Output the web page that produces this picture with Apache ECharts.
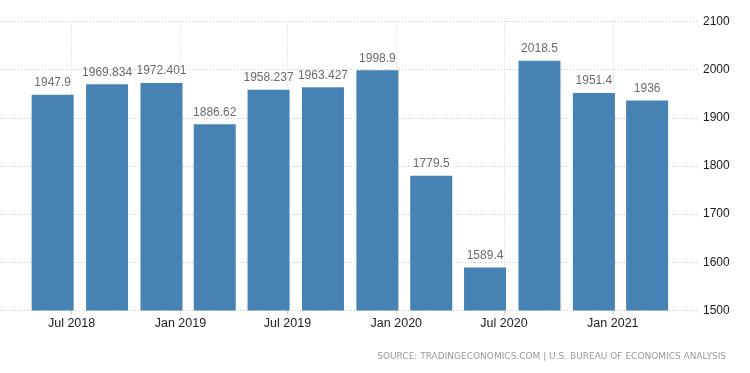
<!DOCTYPE html>
<html>
<head>
<meta charset="utf-8">
<script src="https://cdn.jsdelivr.net/npm/echarts@6/dist/echarts.min.js"></script>
<style>
html,body{margin:0;padding:0;background:#fff;}
#chart{width:750px;height:373px;}
</style>
</head>
<body>
<div id="chart"></div>
<script>
// Quarterly data (bar dates as plotted on the date axis)
const barDates = ['2018-05-30','2018-08-30','2018-11-30','2019-02-28','2019-05-30','2019-08-30','2019-11-30','2020-02-29','2020-05-30','2020-08-30','2020-11-30','2021-02-28'];
const values = [1947.9, 1969.834, 1972.401, 1886.62, 1958.237, 1963.427, 1998.9, 1779.5, 1589.4, 2018.5, 1951.4, 1936];
const xTickDates = ['2018-07-01','2019-01-01','2019-07-01','2020-01-01','2020-07-01','2021-01-01'];
const xTickLabels = ['Jul 2018','Jan 2019','Jul 2019','Jan 2020','Jul 2020','Jan 2021'];
const yTicks = [1500, 1600, 1700, 1800, 1900, 2000, 2100];
const sourceText = 'SOURCE: TRADINGECONOMICS.COM | U.S. BUREAU OF ECONOMICS ANALYSIS';

// dates -> day numbers (days since 1970-01-01)
const dayNum = s => { const p = s.split('-').map(Number); return Math.round(Date.UTC(p[0], p[1]-1, p[2]) / 86400000); };
const tickDays = xTickDates.map(dayNum);
const labelFor = v => { const i = tickDays.indexOf(Math.round(v)); return i >= 0 ? xTickLabels[i] : ''; };

const chart = echarts.init(document.getElementById('chart'), null, {renderer:'canvas'});
chart.setOption({
  animation: false,
  backgroundColor: '#fff',
  grid: {left: 0, right: 52, top: 21.5, bottom: 62.5, containLabel: false},
  xAxis: {
    type: 'value',
    min: dayNum('2018-03-02'),
    max: dayNum('2021-05-25'),
    axisLine: {show: false},
    axisTick: {show: true, customValues: tickDays, length: 4, lineStyle: {color: '#ccc'}},
    axisLabel: {
      customValues: tickDays,
      formatter: v => labelFor(v),
      color: '#222', fontSize: 12.5, fontFamily: 'Liberation Sans', margin: 7
    },
    splitLine: {show: false}
  },
  yAxis: {
    type: 'value',
    position: 'right',
    min: yTicks[0], max: yTicks[yTicks.length-1], interval: 100,
    axisLine: {show: false},
    axisTick: {show: false},
    axisLabel: {color: '#1a1a1a', fontSize: 12, fontFamily: 'Liberation Sans', margin: 5, formatter: v => String(v)},
    splitLine: {show: true, lineStyle: {color: '#c8c8c8', type: [1, 2], width: 1}}
  },
  series: [{
    type: 'bar',
    data: barDates.map((d, i) => [dayNum(d), values[i]]),
    barWidth: 42,
    itemStyle: {color: '#4682b4'},
    z: 3,
    label: {
      show: true, position: 'top', distance: 6,
      color: '#6b6b6b', fontSize: 12, fontFamily: 'Liberation Sans',
      formatter: p => String(p.value[1])
    },
    markLine: {
      silent: true,
      symbol: 'none',
      label: {show: false},
      z: 1,
      lineStyle: {color: '#d4d4d4', type: [1, 2], width: 1},
      data: tickDays.map(d => ({xAxis: d}))
    }
  }],
  graphic: [{
    type: 'text', right: 24, top: 352,
    style: {text: sourceText, fill: '#999', font: '9px "DejaVu Sans"'}
  }]
});
</script>
</body>
</html>
